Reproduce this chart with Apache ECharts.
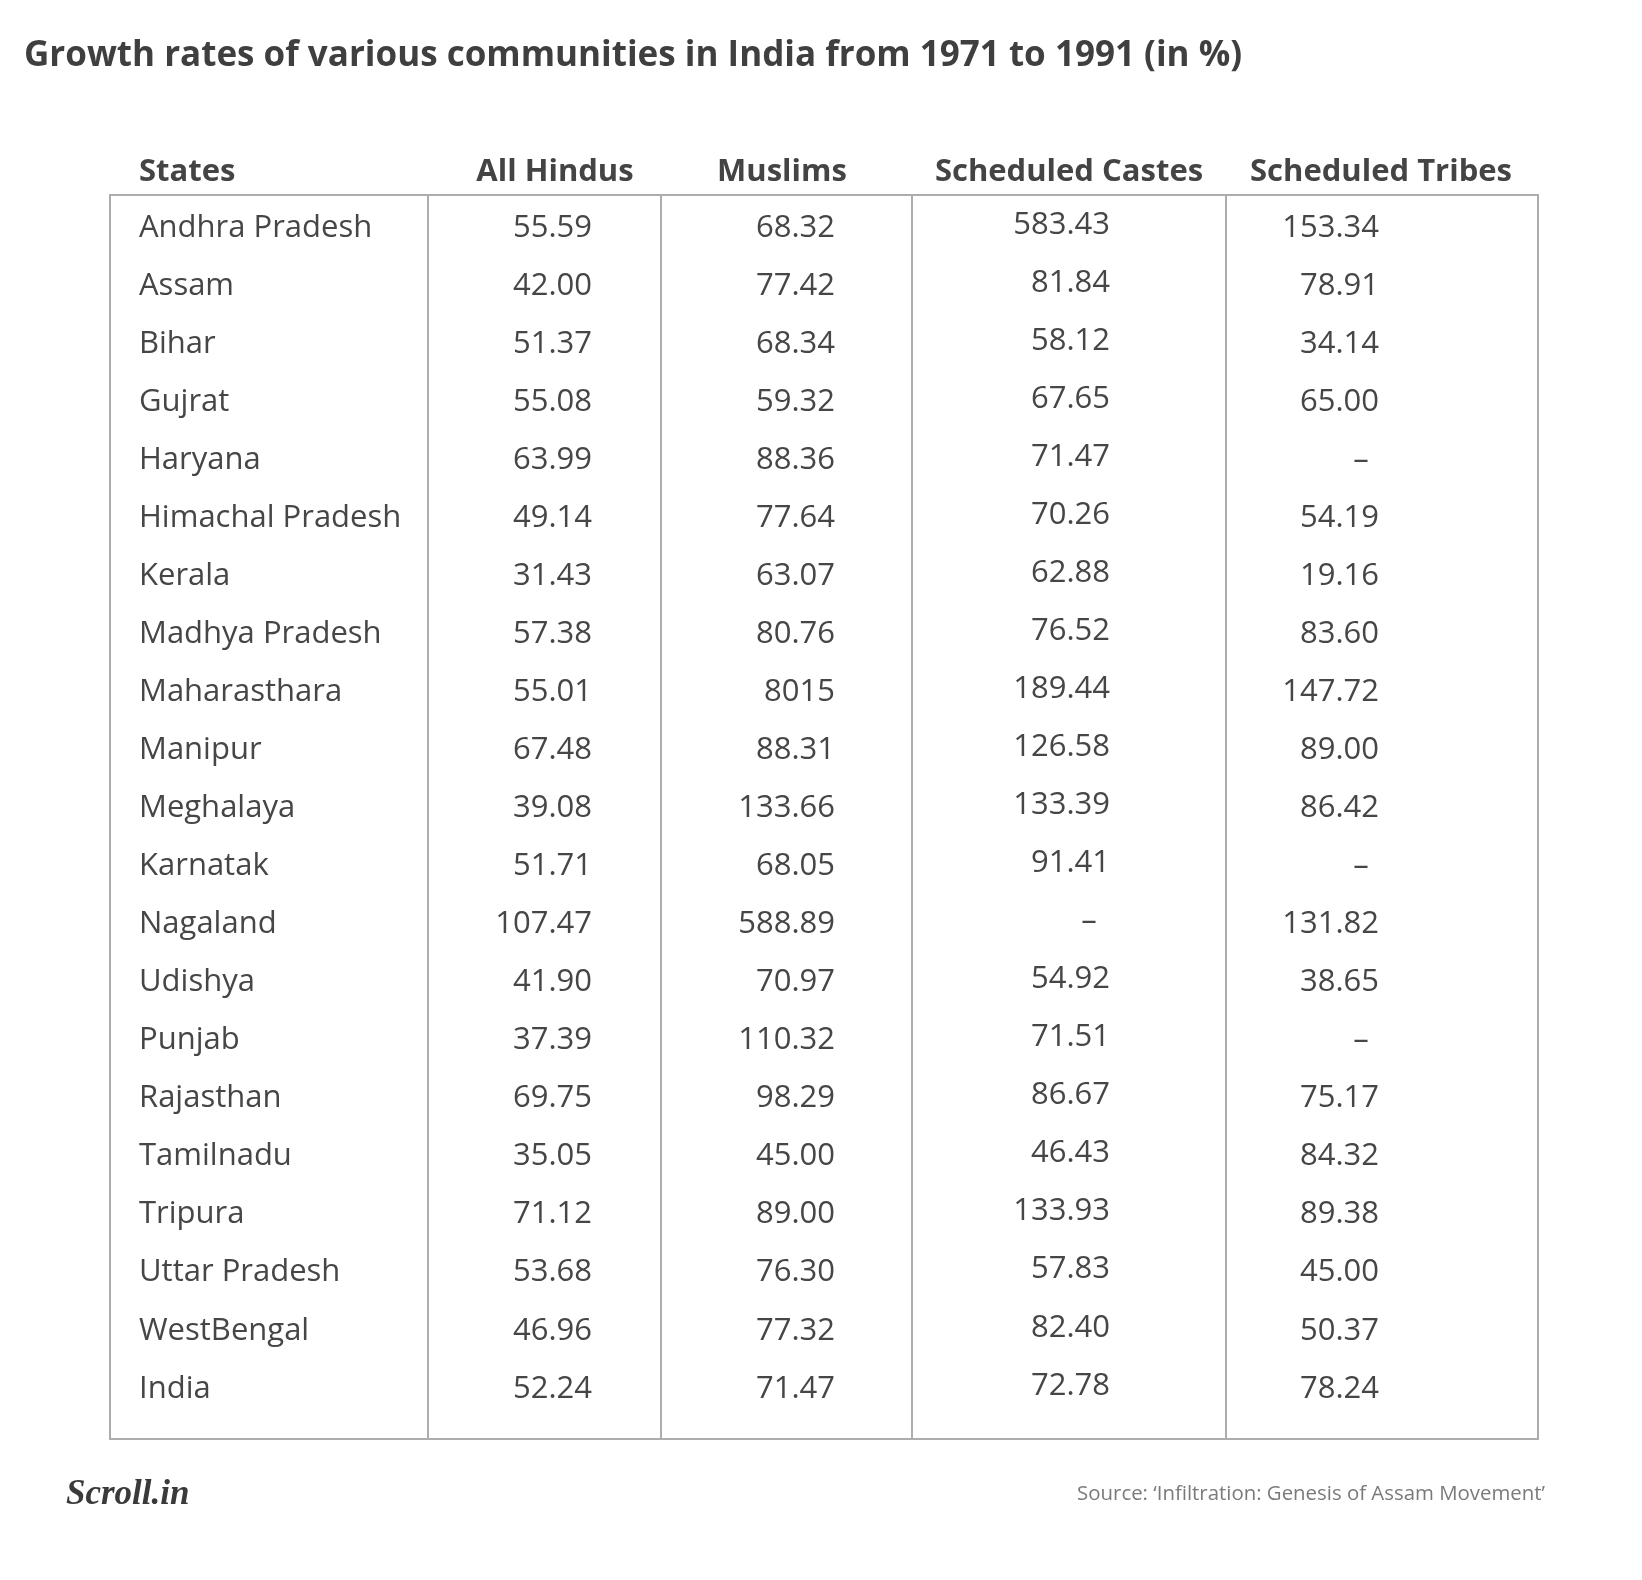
<!DOCTYPE html>
<html>
<head>
<meta charset="utf-8">
<script src="https://cdn.jsdelivr.net/npm/echarts@6/dist/echarts.min.js"></script>
<style>html,body{margin:0;padding:0;background:#fff}#c{width:1642px;height:1580px}</style>
</head>
<body>
<div id="c"></div>
<script>
// ---- data ----
const headers = ['States', 'All Hindus', 'Muslims', 'Scheduled Castes', 'Scheduled Tribes'];
const states = ['Andhra Pradesh','Assam','Bihar','Gujrat','Haryana','Himachal Pradesh','Kerala','Madhya Pradesh','Maharasthara','Manipur','Meghalaya','Karnatak','Nagaland','Udishya','Punjab','Rajasthan','Tamilnadu','Tripura','Uttar Pradesh','WestBengal','India'];
const allHindus = ['55.59','42.00','51.37','55.08','63.99','49.14','31.43','57.38','55.01','67.48','39.08','51.71','107.47','41.90','37.39','69.75','35.05','71.12','53.68','46.96','52.24'];
const muslims = ['68.32','77.42','68.34','59.32','88.36','77.64','63.07','80.76','8015','88.31','133.66','68.05','588.89','70.97','110.32','98.29','45.00','89.00','76.30','77.32','71.47'];
const scheduledCastes = ['583.43','81.84','58.12','67.65','71.47','70.26','62.88','76.52','189.44','126.58','133.39','91.41',null,'54.92','71.51','86.67','46.43','133.93','57.83','82.40','72.78'];
const scheduledTribes = ['153.34','78.91','34.14','65.00',null,'54.19','19.16','83.60','147.72','89.00','86.42',null,'131.82','38.65',null,'75.17','84.32','89.38','45.00','50.37','78.24'];

// ---- layout (x in table units = px from table's left edge) ----
const TABLE_W = 1428;
const dividers = [318, 551, 802, 1116];
const headerX = [29, 445, 672, 959, 1271];
const headerAlign = ['left', 'center', 'center', 'center', 'center'];
const valueX = [29, 482, 725, 1000, 1269];
const valueAlign = ['left', 'right', 'right', 'right', 'right'];
const dashX = [0, 470, 710, 979, 1251];
const colDy = [0, 0, 0, -3, 0];
const HEADER_ROW = -0.97;

const columns = [states, allHindus, muslims, scheduledCastes, scheduledTribes];
const cells = [];
headers.forEach((h, j) => cells.push({col: j, row: HEADER_ROW, text: h, header: true}));
columns.forEach((col, j) => col.forEach((v, i) => cells.push({col: j, row: i, text: v == null ? '\u2013' : v, missing: v == null})));

const TEXT = '#464646';
const chart = echarts.init(document.getElementById('c'), null, {renderer: 'canvas'});
chart.setOption({
  backgroundColor: '#ffffff',
  animation: false,
  title: [
    {text: 'Growth rates of various communities in India from 1971 to 1991 (in %)', left: 19, top: 29,
     textStyle: {fontFamily: 'Open Sans', fontWeight: 700, fontSize: 35, color: '#3f3f3f', lineHeight: 44}},
    {text: 'Scroll.in', left: 61, top: 1469,
     textStyle: {fontFamily: 'Liberation Serif', fontStyle: 'italic', fontWeight: 700, fontSize: 35, color: '#3a3a3a', lineHeight: 42}},
    {text: 'Source: \u2018Infiltration: Genesis of Assam Movement\u2019', right: 92, top: 1476,
     textStyle: {fontFamily: 'Open Sans', fontWeight: 400, fontSize: 20.4, color: '#7a7a7a', lineHeight: 26}}
  ],
  grid: {left: 110, top: 195, width: TABLE_W, height: 1244, show: true, borderColor: '#adadad', borderWidth: 2, backgroundColor: 'transparent'},
  xAxis: {type: 'value', min: 0, max: TABLE_W, show: false},
  yAxis: {type: 'value', min: -0.573, max: 20.867, inverse: true, show: false},
  series: [{
    type: 'custom',
    coordinateSystem: 'cartesian2d',
    clip: false,
    data: cells.map(c => [c.col, c.row]),
    renderItem: function (params, api) {
      const c = cells[params.dataIndex];
      const j = c.col;
      let x, align;
      if (c.header) { x = headerX[j]; align = headerAlign[j]; }
      else if (c.missing) { x = dashX[j]; align = 'center'; }
      else { x = valueX[j]; align = valueAlign[j]; }
      const p = api.coord([x, c.row]);
      return {
        type: 'text',
        x: p[0], y: p[1] + (c.header ? 0 : colDy[j]),
        style: {
          text: c.text, align: align, verticalAlign: 'middle',
          fontFamily: 'Open Sans', fontWeight: c.header ? 700 : 400,
          fontSize: 31, fill: c.header ? '#444444' : TEXT
        }
      };
    },
    markLine: {
      silent: true, symbol: 'none', label: {show: false},
      lineStyle: {color: '#adadad', width: 2, type: 'solid'},
      data: dividers.map(d => ({xAxis: d}))
    }
  }]
});
</script>
</body>
</html>
